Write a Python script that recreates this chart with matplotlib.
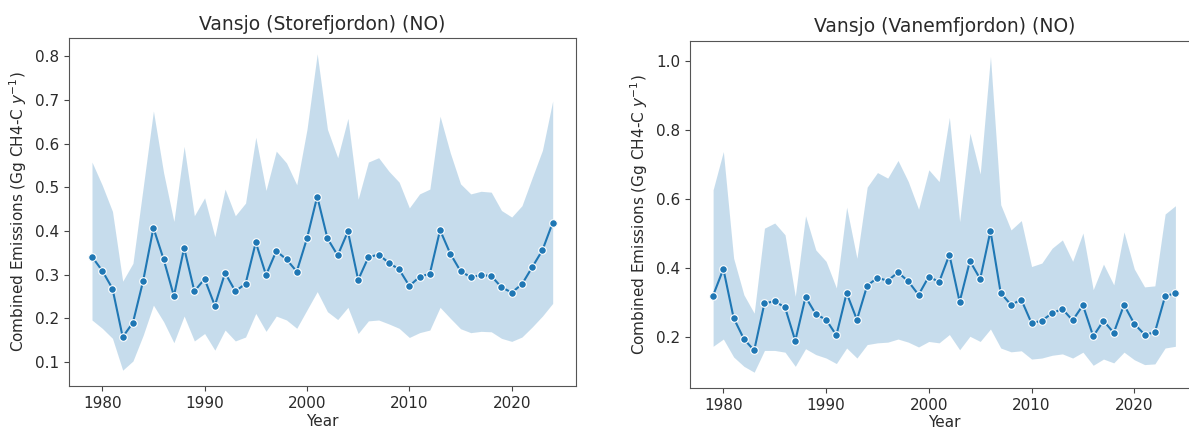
import numpy as np
import matplotlib
matplotlib.use("Agg")
import matplotlib.pyplot as plt

years = list(range(1979, 2025))

# Left panel: Vansjo (Storefjordon)
store_mean = [0.341, 0.309, 0.268, 0.157, 0.190, 0.286, 0.407, 0.335, 0.251, 0.361,
              0.262, 0.290, 0.229, 0.304, 0.262, 0.279, 0.374, 0.299, 0.354, 0.335,
              0.307, 0.383, 0.479, 0.383, 0.344, 0.399, 0.288, 0.340, 0.346, 0.327,
              0.312, 0.274, 0.295, 0.302, 0.402, 0.348, 0.308, 0.294, 0.299, 0.297,
              0.271, 0.259, 0.278, 0.317, 0.356, 0.419]
store_upper = [0.558, 0.505, 0.445, 0.285, 0.326, 0.500, 0.675, 0.533, 0.422, 0.594,
               0.435, 0.476, 0.387, 0.496, 0.435, 0.464, 0.615, 0.493, 0.583, 0.556,
               0.506, 0.633, 0.806, 0.633, 0.568, 0.658, 0.473, 0.558, 0.568, 0.537,
               0.512, 0.453, 0.485, 0.496, 0.663, 0.579, 0.508, 0.485, 0.491, 0.489,
               0.447, 0.432, 0.458, 0.522, 0.585, 0.698]
store_lower = [0.196, 0.177, 0.154, 0.081, 0.102, 0.161, 0.230, 0.192, 0.144, 0.205,
               0.148, 0.165, 0.127, 0.173, 0.148, 0.157, 0.211, 0.170, 0.205, 0.196,
               0.177, 0.219, 0.261, 0.215, 0.197, 0.225, 0.165, 0.194, 0.196, 0.187,
               0.177, 0.156, 0.167, 0.173, 0.225, 0.200, 0.176, 0.167, 0.170, 0.169,
               0.154, 0.147, 0.157, 0.180, 0.205, 0.234]

# Right panel: Vansjo (Vanemfjordon)
vanem_mean = [0.321, 0.398, 0.256, 0.195, 0.162, 0.299, 0.304, 0.287, 0.190, 0.317,
              0.267, 0.251, 0.206, 0.328, 0.251, 0.350, 0.372, 0.364, 0.388, 0.362,
              0.323, 0.376, 0.360, 0.439, 0.303, 0.421, 0.369, 0.508, 0.328, 0.294,
              0.309, 0.241, 0.248, 0.270, 0.282, 0.249, 0.293, 0.203, 0.248, 0.213,
              0.294, 0.239, 0.208, 0.214, 0.319, 0.328]
vanem_upper = [0.627, 0.738, 0.429, 0.323, 0.270, 0.516, 0.531, 0.497, 0.319, 0.552,
               0.453, 0.420, 0.343, 0.577, 0.429, 0.635, 0.677, 0.661, 0.712, 0.651,
               0.571, 0.685, 0.651, 0.837, 0.535, 0.791, 0.673, 1.013, 0.584, 0.511,
               0.538, 0.405, 0.415, 0.458, 0.482, 0.420, 0.502, 0.338, 0.412, 0.352,
               0.505, 0.398, 0.346, 0.349, 0.557, 0.581]
vanem_lower = [0.174, 0.195, 0.143, 0.116, 0.099, 0.162, 0.162, 0.157, 0.116, 0.167,
               0.150, 0.140, 0.124, 0.169, 0.140, 0.179, 0.184, 0.186, 0.195, 0.186,
               0.172, 0.188, 0.184, 0.208, 0.164, 0.203, 0.188, 0.224, 0.169, 0.158,
               0.161, 0.137, 0.140, 0.148, 0.152, 0.140, 0.157, 0.119, 0.137, 0.126,
               0.157, 0.135, 0.121, 0.123, 0.169, 0.174]

titles = ["Vansjo (Storefjordon) (NO)", "Vansjo (Vanemfjordon) (NO)"]
ylabel = "Combined Emissions (Gg CH4-C $y^{-1}$)"
xlabel = "Year"

color = "#1f77b4"
text_color = "#2a2a2a"

fig = plt.figure(figsize=(11.89, 4.29), dpi=100)
ax1 = fig.add_axes([0.058, 0.1002, 0.4262, 0.8112])
ax2 = fig.add_axes([0.5803, 0.0956, 0.4277, 0.8094])

panels = [(ax1, store_mean, store_lower, store_upper, titles[0]),
          (ax2, vanem_mean, vanem_lower, vanem_upper, titles[1])]

for ax, m, lo, hi, t in panels:
    ax.fill_between(years, lo, hi, color=color, alpha=0.25, linewidth=0)
    ax.plot(years, m, color=color, linewidth=1.5, marker='o', markersize=5.5,
            markeredgecolor='white', markeredgewidth=0.8)
    ax.set_title(t, fontsize=13.5, color=text_color)
    ax.set_xlabel(xlabel, fontsize=11, color=text_color, labelpad=2)
    ax.set_ylabel(ylabel, fontsize=11, color=text_color)
    ax.tick_params(labelsize=11, labelcolor=text_color, color='#444444')
    for s in ax.spines.values():
        s.set_color('#555555')
    ax.set_xticks([1980, 1990, 2000, 2010, 2020])

ax1.set_yticks([0.1, 0.2, 0.3, 0.4, 0.5, 0.6, 0.7, 0.8])
ax2.set_yticks([0.2, 0.4, 0.6, 0.8, 1.0])

fig.savefig("out.png", dpi=100)
